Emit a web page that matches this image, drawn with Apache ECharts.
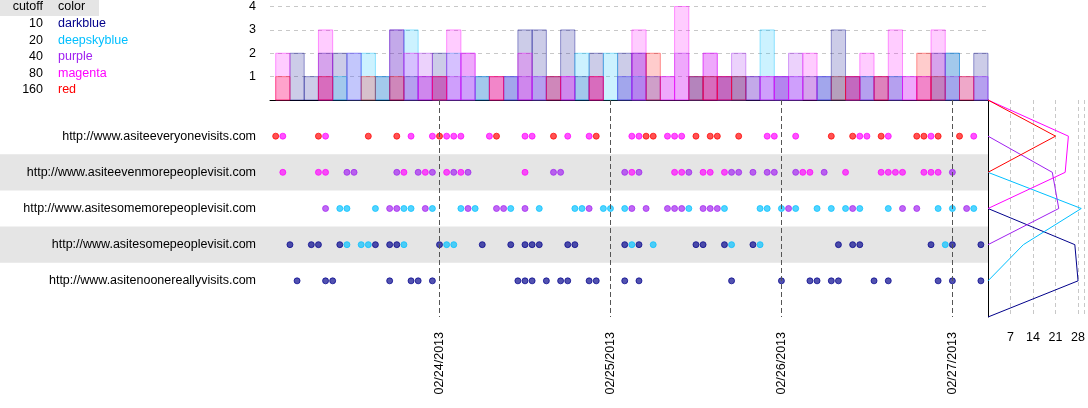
<!DOCTYPE html>
<html><head><meta charset="utf-8">
<script src="https://cdn.jsdelivr.net/npm/echarts@6/dist/echarts.min.js"></script>
<style>html,body{margin:0;padding:0;background:#fff;}#c{width:1088px;height:408px;}</style>
</head><body><div id="c"></div>
<script>
// ---------- data ----------
const sites = [
  'http://www.asiteeveryonevisits.com',
  'http://www.asiteevenmorepeoplevisit.com',
  'http://www.asitesomemorepeoplevisit.com',
  'http://www.asitesomepeoplevisit.com',
  'http://www.asitenoonereallyvisits.com'
];
const cutoffs = [10, 20, 40, 80, 160];
const colorNames = ['darkblue', 'deepskyblue', 'purple', 'magenta', 'red'];
const dayLabels = ['02/24/2013', '02/25/2013', '02/26/2013', '02/27/2013'];
const dayHours = [24, 48, 72, 96];          // hours since 02/23/2013 00:00
const countTicks = [7, 14, 21, 28];
const histTicks = [1, 2, 3, 4];
const binHours = 2;

// visit times (hours since 02/23/2013 00:00) per site and colour
const everyoneRed      = [1,7,14,18,24,32,40,46,53,54,60,62,63,66,79,82,86,91,92,94,97];
const everyoneMagenta  = [2,8,20,23,25,26,27,31,36,37,42,45,51,52,56,57,58,70,71,74,83,84,87,93,99];
const evenMoreMagenta  = [2,7,8,19,22,25,27,36,51,57,58,61,62,64,75,76,81,86,87,88,89,92,93,94];
const evenMorePurple   = [11,12,18,21,23,26,28,40,41,50,52,59,65,66,68,70,71,74,78,96];
const someMorePurple   = [8,17,18,22,28,32,33,36,45,51,53,56,57,58,61,62,63,73,82,89,91,98];
const someMoreSkyblue  = [10,11,15,19,20,23,27,29,34,38,43,44,47,48,50,59,64,69,70,72,74,77,79,81,83,87,94,96,99];
const someSkyblue      = [11,13,14,19,25,26,51,54,65,69,95];
const someDarkblue     = [3,6,7,10,15,17,18,24,30,34,36,37,38,42,43,50,52,60,61,64,68,80,82,83,93,96,100];
const nooneDarkblue    = [4,8,9,17,20,21,23,35,36,37,39,41,42,45,46,50,52,65,72,76,77,79,80,85,87,94,96,100];

// site index, colour index, hours
const visitGroups = [
  [0, 4, everyoneRed], [0, 3, everyoneMagenta],
  [1, 3, evenMoreMagenta], [1, 2, evenMorePurple],
  [2, 2, someMorePurple], [2, 1, someMoreSkyblue],
  [3, 1, someSkyblue], [3, 0, someDarkblue],
  [4, 0, nooneDarkblue]
];

// ---------- styles ----------
const RGB = {darkblue:[0,0,139], deepskyblue:[0,191,255], purple:[160,32,240], magenta:[255,0,255], red:[255,0,0]};
const rgba = (n, a) => 'rgba(' + RGB[n].join(',') + ',' + a + ')';
const FONT = '"Liberation Sans", Arial, sans-serif';
const FS = 12.5;

// ---------- derived ----------
const allHours = visitGroups.flatMap(g => g[2]);
const binStart = Math.min(...allHours);
const nBins = Math.ceil((Math.max(...allHours) + 1 - binStart) / binHours);
const hist = colorNames.map(() => new Array(nBins).fill(0));
const rowCounts = colorNames.map(() => new Array(sites.length).fill(0));
const dots = colorNames.map(() => []);
visitGroups.forEach(([s, c, hrs]) => {
  hrs.forEach(h => {
    hist[c][Math.floor((h - binStart) / binHours)] += 1;
    dots[c].push([h, s + 1]);
  });
  rowCounts[c][s] += hrs.length;
});

const X_MIN = 0.2, X_MAX = 101;
const series = [];

// background bands
series.push({
  type: 'custom', xAxisIndex: 3, yAxisIndex: 3, z: 0, silent: true,
  data: sites.map((s, i) => i + 1).filter(k => k % 2 === 0),
  renderItem: (params, api) => {
    const k = api.value(0);
    const p0 = api.coord([0, k - 0.5]), p1 = api.coord([1, k + 0.5]);
    return {type: 'rect', shape: {x: p0[0], y: p0[1], width: p1[0] - p0[0], height: p1[1] - p0[1]},
            style: {fill: '#e5e5e5'}};
  }
});

// histogram
colorNames.forEach((n, c) => {
  series.push({
    type: 'custom', xAxisIndex: 0, yAxisIndex: 0, z: 2, silent: true,
    data: hist[c].map((v, i) => [binStart + i * binHours, v]).filter(d => d[1] > 0),
    renderItem: (params, api) => {
      const x0 = api.value(0), v = api.value(1);
      const p0 = api.coord([x0, v]), p1 = api.coord([x0 + binHours, 0]);
      return {type: 'rect', shape: {x: p0[0], y: p0[1], width: p1[0] - p0[0], height: p1[1] - p0[1]},
              style: {fill: rgba(n, 0.2), stroke: rgba(n, 0.4), lineWidth: 1}};
    }
  });
});

// dots
colorNames.forEach((n, c) => {
  series.push({
    type: 'scatter', xAxisIndex: 1, yAxisIndex: 1, z: 3, silent: true,
    symbolSize: 6, data: dots[c],
    itemStyle: {color: rgba(n, 0.68), borderColor: rgba(n, 0.9), borderWidth: 0.8, opacity: 1}
  });
});
// day lines
series.push({
  type: 'scatter', xAxisIndex: 1, yAxisIndex: 1, data: [], silent: true,
  markLine: {silent: true, symbol: 'none', label: {show: false},
    lineStyle: {color: '#555', type: [5, 3], width: 1},
    data: dayHours.map(h => ({xAxis: h}))}
});

// right count panel
colorNames.forEach((n, c) => {
  const padded = [0, ...rowCounts[c], 0];
  const nz = padded.map((v, k) => v > 0 ? k : -1).filter(k => k >= 0);
  const first = Math.max(0, nz[0] - 1), last = Math.min(padded.length - 1, nz[nz.length - 1] + 1);
  const pts = [];
  for (let k = first; k <= last; k++) pts.push([padded[k], k]);
  series.push({
    type: 'line', xAxisIndex: 2, yAxisIndex: 2, z: 3, silent: true, symbol: 'none',
    data: pts, lineStyle: {color: rgba(n, 1), width: 1}
  });
});

const labelStyle = {color: '#000', fontSize: FS, fontFamily: FONT};
const font = FS + 'px ' + FONT;

const graphic = [{type: 'rect', left: 0, top: 0, shape: {width: 99, height: 16}, style: {fill: '#e5e5e5'}}];
graphic.push({type: 'text', x: 43, y: 7, style: {text: 'cutoff', fill: '#000', font: font, textAlign: 'right', textVerticalAlign: 'middle'}});
graphic.push({type: 'text', x: 58, y: 7, style: {text: 'color', fill: '#000', font: font, textAlign: 'left', textVerticalAlign: 'middle'}});
cutoffs.forEach((v, i) => {
  const y = 23.5 + i * 16.6;
  graphic.push({type: 'text', x: 43, y: y, style: {text: String(v), fill: '#000', font: font, textAlign: 'right', textVerticalAlign: 'middle'}});
  graphic.push({type: 'text', x: 58, y: y, style: {text: colorNames[i], fill: rgba(colorNames[i], 1), font: font, textAlign: 'left', textVerticalAlign: 'middle'}});
});

const option = {
  animation: false,
  backgroundColor: '#fff',
  textStyle: {fontFamily: FONT},
  graphic: graphic,
  grid: [
    {left: 270, top: 5, width: 718, height: 95, containLabel: false},
    {left: 270, top: 100, width: 718, height: 217},
    {left: 988, top: 100, width: 98, height: 217},
    {left: 0, top: 100, width: 988, height: 217}
  ],
  xAxis: [
    {gridIndex: 0, type: 'value', min: X_MIN, max: X_MAX, axisLabel: {show: false}, axisTick: {show: false}, splitLine: {show: false},
     axisLine: {show: true, onZero: false, lineStyle: {color: '#000', width: 1}}},
    {gridIndex: 1, type: 'value', min: X_MIN, max: X_MAX, axisLine: {show: false}, axisTick: {show: false}, splitLine: {show: false},
     axisLabel: Object.assign({}, labelStyle, {rotate: 90, margin: 15, customValues: dayHours,
       formatter: v => { const i = dayHours.indexOf(v); return i >= 0 ? dayLabels[i] : ''; }})},
    {gridIndex: 2, type: 'value', min: 0, max: 30, interval: 7, axisLine: {show: false}, axisTick: {show: false},
     axisLabel: Object.assign({}, labelStyle, {margin: 14, formatter: v => countTicks.includes(v) ? String(v) : ''}),
     splitLine: {show: true, lineStyle: {color: '#c8c8c8', type: [4, 3]}}},
    {gridIndex: 3, type: 'value', min: 0, max: 1, show: false}
  ],
  yAxis: [
    {gridIndex: 0, type: 'value', min: 0, max: 4, interval: 1, axisLine: {show: false}, axisTick: {show: false},
     axisLabel: Object.assign({}, labelStyle, {margin: 14, formatter: v => histTicks.includes(v) ? String(v) : ''}),
     splitLine: {show: true, lineStyle: {color: '#c8c8c8', type: [4, 4]}}},
    {gridIndex: 1, type: 'value', min: 0, max: 6, interval: 1, inverse: true, axisLine: {show: false}, axisTick: {show: false},
     axisLabel: Object.assign({}, labelStyle, {margin: 14, formatter: v => sites[v - 1] || ''}), splitLine: {show: false}},
    {gridIndex: 2, type: 'value', min: 0, max: 6, interval: 1, inverse: true, axisTick: {show: false}, axisLabel: {show: false},
     splitLine: {show: false}, axisLine: {show: true, onZero: false, lineStyle: {color: '#000', width: 1}}},
    {gridIndex: 3, type: 'value', min: 0, max: 6, inverse: true, show: false}
  ],
  series: series
};
const chart = echarts.init(document.getElementById('c'), null, {renderer: 'canvas'});
chart.setOption(option);
</script></body></html>
